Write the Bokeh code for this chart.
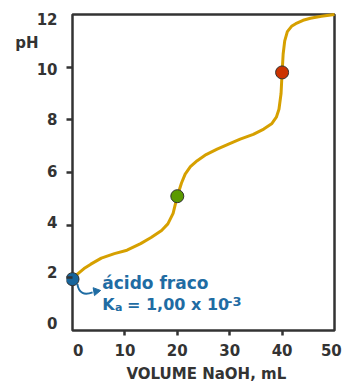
from bokeh.plotting import figure
from bokeh.models import Label, Range1d, FixedTicker, LinearAxis, Title
from bokeh.embed import file_html
from bokeh.resources import INLINE

# Titration curve: volume of NaOH added (mL) vs pH
volume = [0, 1, 2.2, 3.5, 5.5, 8, 10.4, 13, 15, 17, 18.2, 19.2, 20, 20.8, 21.5,
          22.5, 23.8, 25.5, 27.6, 30, 32, 34.5, 36.5, 38, 38.9, 39.4, 39.8,
          40, 40.2, 40.5, 41, 41.8, 42.6, 44, 45.4, 47.5, 50]
ph = [1.95, 2.15, 2.35, 2.52, 2.75, 2.92, 3.05, 3.3, 3.53, 3.8, 4.05, 4.45, 5.1, 5.6, 5.94,
      6.22, 6.45, 6.68, 6.89, 7.1, 7.27, 7.45, 7.65, 7.85, 8.1, 8.4, 9.0,
      9.8, 10.5, 11.0, 11.35, 11.55, 11.65, 11.78, 11.86, 11.93, 12.0]

# Highlighted points: starting pH, first and second equivalence points
pt_volume = [0, 20, 40]
pt_ph = [1.95, 5.1, 9.8]
pt_colors = ["#17659c", "#5b9a00", "#cc3300"]

# axis extents, tick marks and where the tick labels sit
x_lims = [0, 50]
y_lims = [0, 12]
x_tick_marks = [10, 20, 30, 40]
y_tick_marks = [2, 4, 6, 8, 10]
x_label_at = {1.1: "0", 10: "10", 20: "20", 30: "30", 40: "40", 49.4: "50"}
y_label_at = {0.3: "0", 2.22: "2", 4.11: "4", 6.07: "6", 8.03: "8", 9.94: "10", 11.84: "12"}
PH_TITLE_AT = 10.93

INK = "#333333"
FONT = "DejaVu Sans"
BLUE = "#1f6ca3"

# a little room around the 0..50 / 0..12 box so its border and the start
# marker are not cut at the frame edge
p = figure(width=344, height=387, output_backend="svg", toolbar_location=None,
           x_range=Range1d(-1.145, 50.38), y_range=Range1d(-0.076, 12.076),
           min_border_left=66, min_border_right=8, min_border_top=12, min_border_bottom=55)
p.grid.visible = False
p.outline_line_color = None
p.background_fill_color = "white"
p.border_fill_color = "white"

# plot box
p.quad(left=[x_lims[0]], right=[x_lims[1]], bottom=[y_lims[0]], top=[y_lims[1]],
       fill_color=None, line_color=INK, line_width=2.5)


def style_axis(ax, ticks):
    ax.ticker = FixedTicker(ticks=ticks)
    ax.axis_line_color = None
    ax.major_tick_line_color = INK
    ax.major_tick_line_width = 2.5
    ax.minor_tick_line_color = None
    ax.major_label_text_font = FONT
    ax.major_label_text_font_size = "15px"
    ax.major_label_text_font_style = "bold"
    ax.major_label_text_color = INK


def marks_only(ax, ticks):
    style_axis(ax, ticks)
    ax.major_label_overrides = {t: "" for t in ticks}
    ax.major_label_text_alpha = 0
    ax.major_label_standoff = 0


def labels_only(ax, labels, standoff):
    style_axis(ax, list(labels))
    ax.major_label_overrides = labels
    ax.major_tick_line_color = None
    ax.major_tick_in = 0
    ax.major_tick_out = 0
    ax.major_label_standoff = standoff


# left side: tick marks next to the box, then numbers, then the "pH" title
marks_only(p.yaxis[0], y_tick_marks)
p.yaxis[0].major_tick_in = 6
p.yaxis[0].major_tick_out = 0
y_nums = LinearAxis()
labels_only(y_nums, y_label_at, 9)
p.add_layout(y_nums, "left")
ph_axis = LinearAxis()
labels_only(ph_axis, {PH_TITLE_AT: "pH"}, -5)
p.add_layout(ph_axis, "left")

# bottom: tick marks, numbers, title
marks_only(p.xaxis[0], x_tick_marks)
p.xaxis[0].major_tick_in = 2
p.xaxis[0].major_tick_out = 3
x_nums = LinearAxis()
labels_only(x_nums, x_label_at, 8)
p.add_layout(x_nums, "below")
p.add_layout(Title(text="VOLUME NaOH, mL", align="left", offset=60, text_font=FONT,
                   text_font_size="15px", text_font_style="bold", text_color=INK,
                   standoff=9), "below")

# Curve and markers
p.line(volume, ph, line_color="#d6a000", line_width=3)
p.scatter(pt_volume, pt_ph, size=13, fill_color=pt_colors, line_color=INK, line_width=1)

# Annotation of the weak acid
p.bezier(x0=[0.92], y0=[1.77], x1=[3.83], y1=[1.45], cx0=[1.2], cy0=[1.4],
         cx1=[2.3], cy1=[1.33], line_color=BLUE, line_width=2)
p.scatter([4.5], [1.49], marker="triangle", size=8, angle=-1.4,
          fill_color=BLUE, line_color=BLUE)


def blue_label(x, y, text, size="16px"):
    p.add_layout(Label(x=x, y=y, text=text, text_align="left", text_baseline="alphabetic",
                       text_font=FONT, text_font_size=size, text_font_style="bold",
                       text_color=BLUE))


blue_label(5.68, 1.8, "ácido fraco", "17px")
blue_label(5.68, 0.97, "K")
blue_label(8.13, 0.86, "a", "11px")
blue_label(10.4, 0.97, "= 1,00 x 10")
blue_label(29.5, 1.11, "-3", "13px")

open("out.html", "w").write(file_html(p, INLINE))
